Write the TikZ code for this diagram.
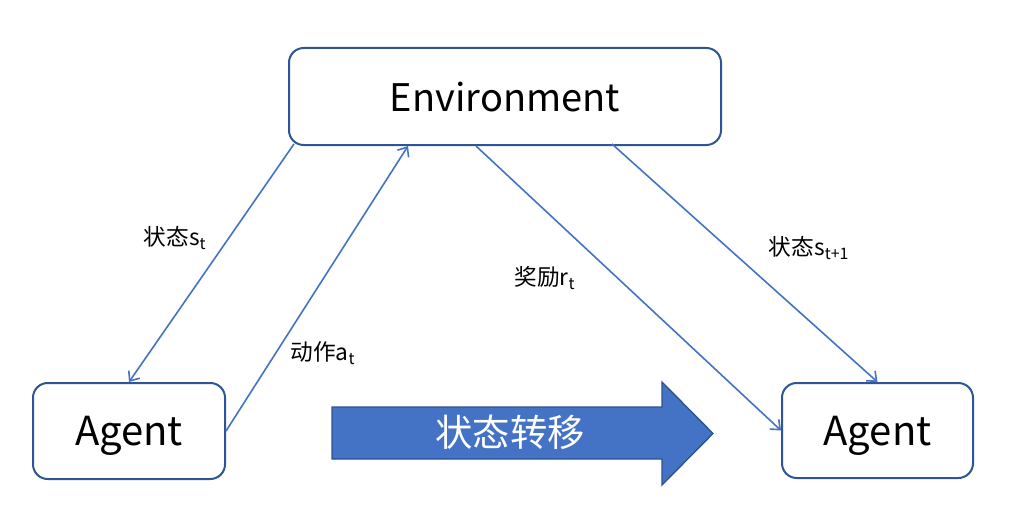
\documentclass[tikz,border=0pt]{standalone}
\usepackage{fontspec}
\setmainfont{Noto Sans CJK SC}
\usetikzlibrary{calc, arrows.meta, positioning}
\definecolor{lineblue}{HTML}{4472C4}
\definecolor{boxblue}{HTML}{2F5597}
\definecolor{arrowedge}{HTML}{2F528F}

\begin{document}
\begin{tikzpicture}[
	x=0.75pt, y=-0.75pt,
	>={Straight Barb[length=6pt,width=10pt]},
	every node/.style={font=\fontsize{17}{20}\selectfont},
	box/.style={draw=boxblue, line width=1.5pt, rounded corners=11pt, fill=white, inner sep=0pt, text depth=0pt, font=\fontsize{30}{36}\selectfont},
	link/.style={lineblue, line width=1.2pt, ->},
	transition/.style={fill=lineblue, draw=arrowedge, line width=1pt}
	]
	\useasboundingbox (0,0) rectangle (1035,528);

	% =====================================================
	% KOTAK UTAMA
	% =====================================================
	\node[box, minimum width=324pt, minimum height=72.75pt, font=\fontsize{28.5}{34}\selectfont] (env) at (505,96.5) {Environment};
	\node[box, minimum width=144pt, minimum height=72pt] (agentL) at (129,431) {Agent};
	\node[box, minimum width=143.25pt, minimum height=71.25pt] (agentR) at (877.5,430.5) {Agent};

	% =====================================================
	% PANAH STATUS TRANSISI
	% =====================================================
	\draw[transition] (332,407) -- (662,407) -- (662,382) -- (713,433.5) -- (662,485) -- (662,459) -- (332,459) -- cycle;
	\node[white, font=\fontsize{28}{34}\selectfont] (shiftText) at (510,432) {状态转移};

	% =====================================================
	% JALUR INTERAKSI
	% =====================================================
	\draw[link] ($(env.south west)+(6,-2)$) -- (agentL.north);
	\draw[link] (agentL.east) -- ($(env.south)+(-97,0)$);
	\draw[link] ($(env.south)+(-29,0)$) -- (agentR.west);
	\draw[link] ($(env.south)+(107,-2)$) -- (agentR.north);

	% =====================================================
	% LABEL
	% =====================================================
	\node (lblState) at (175,238) {状态s\textsubscript{t}};
	\node (lblAction) at (323,353) {动作a\textsubscript{t}};
	\node (lblReward) at (545,278) {奖励r\textsubscript{t}};
	\node (lblNext) at (809,248) {状态s\textsubscript{t+1}};

\end{tikzpicture}
\end{document}
